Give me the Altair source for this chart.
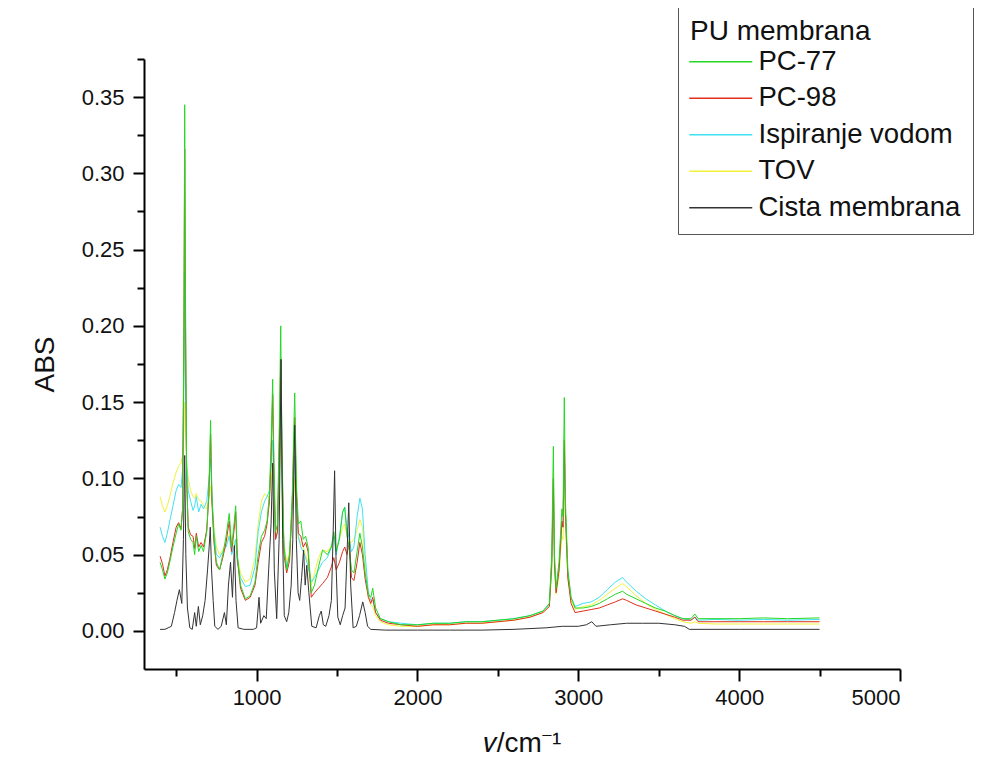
import altair as alt
import pandas as pd

series_names = ["PC-77", "PC-98", "Ispiranje vodom", "TOV", "Cista membrana"]
series_colors = ["#22d822", "#e0301c", "#3fe2f2", "#f2f23a", "#333333"]
draw_order = ["TOV", "Ispiranje vodom", "PC-98", "PC-77", "Cista membrana"]

# wavenumbers shared by the four treated membranes
wn = [400, 415, 430, 445, 460, 480, 500, 515, 530, 540, 548, 553, 558, 565, 575, 590, 605, 615, 625, 640,
      655, 670, 690, 703, 714, 722, 735, 750, 770, 790, 810, 830, 845, 860, 870, 880, 900, 930, 960, 990,
      1010, 1030, 1050, 1065, 1080, 1092, 1100, 1108, 1118, 1130, 1142, 1150, 1158, 1170, 1187, 1205, 1222, 1237, 1248, 1260,
      1275, 1290, 1305, 1320, 1340, 1360, 1385, 1410, 1440, 1465, 1480, 1495, 1515, 1535, 1548, 1562, 1575, 1590, 1605, 1625,
      1642, 1658, 1675, 1695, 1710, 1722, 1740, 1770, 1820, 1900, 2000, 2100, 2200, 2300, 2400, 2500, 2600, 2700, 2780, 2820,
      2835, 2845, 2852, 2862, 2880, 2898, 2905, 2913, 2920, 2935, 2955, 2980, 3030, 3080, 3130, 3180, 3230, 3275, 3300, 3360,
      3420, 3480, 3540, 3600, 3650, 3700, 3725, 3745, 3850, 4000, 4150, 4300, 4500]

pc77 = [0.045, 0.040, 0.034, 0.038, 0.045, 0.055, 0.064, 0.070, 0.066, 0.080, 0.200, 0.345, 0.220, 0.100, 0.065, 0.060, 0.058, 0.050, 0.062, 0.052,
        0.056, 0.052, 0.065, 0.090, 0.138, 0.090, 0.060, 0.045, 0.040, 0.050, 0.062, 0.077, 0.055, 0.070, 0.082, 0.050, 0.030, 0.021, 0.023, 0.032,
        0.050, 0.062, 0.066, 0.072, 0.090, 0.130, 0.165, 0.110, 0.065, 0.070, 0.140, 0.200, 0.120, 0.055, 0.040, 0.050, 0.090, 0.156, 0.095, 0.070,
        0.072, 0.060, 0.062, 0.055, 0.025, 0.030, 0.042, 0.053, 0.050, 0.055, 0.065, 0.052, 0.060, 0.078, 0.081, 0.062, 0.055, 0.040, 0.038, 0.052,
        0.064, 0.055, 0.038, 0.024, 0.022, 0.028, 0.015, 0.008, 0.006, 0.004, 0.004, 0.005, 0.005, 0.006, 0.006, 0.007, 0.008, 0.010, 0.013, 0.018,
        0.050, 0.121, 0.050, 0.028, 0.045, 0.080, 0.075, 0.153, 0.085, 0.040, 0.022, 0.015, 0.015, 0.016, 0.018, 0.021, 0.024, 0.026, 0.024, 0.021,
        0.018, 0.015, 0.013, 0.010, 0.008, 0.008, 0.011, 0.008, 0.008, 0.008, 0.0085, 0.008, 0.0085]

pc98 = [0.049, 0.044, 0.036, 0.040, 0.047, 0.058, 0.068, 0.071, 0.067, 0.080, 0.190, 0.316, 0.200, 0.100, 0.068, 0.063, 0.062, 0.054, 0.064, 0.055,
        0.058, 0.055, 0.066, 0.088, 0.129, 0.085, 0.058, 0.043, 0.040, 0.048, 0.058, 0.072, 0.052, 0.066, 0.078, 0.048, 0.028, 0.020, 0.022, 0.030,
        0.045, 0.058, 0.062, 0.070, 0.085, 0.120, 0.155, 0.100, 0.060, 0.065, 0.125, 0.178, 0.110, 0.050, 0.038, 0.046, 0.085, 0.140, 0.088, 0.064,
        0.062, 0.055, 0.058, 0.052, 0.022, 0.025, 0.028, 0.031, 0.035, 0.042, 0.048, 0.040, 0.045, 0.052, 0.055, 0.050, 0.058, 0.035, 0.033, 0.045,
        0.058, 0.050, 0.034, 0.022, 0.018, 0.022, 0.012, 0.007, 0.005, 0.004, 0.003, 0.004, 0.004, 0.005, 0.005, 0.006, 0.007, 0.009, 0.012, 0.016,
        0.045, 0.100, 0.045, 0.025, 0.040, 0.072, 0.068, 0.125, 0.078, 0.035, 0.018, 0.012, 0.013, 0.014, 0.015, 0.017, 0.019, 0.021, 0.020, 0.017,
        0.015, 0.013, 0.011, 0.009, 0.007, 0.007, 0.009, 0.006, 0.006, 0.006, 0.006, 0.006, 0.006]

ispiranje = [0.068, 0.062, 0.058, 0.064, 0.072, 0.082, 0.092, 0.096, 0.094, 0.105, 0.160, 0.236, 0.170, 0.110, 0.092, 0.085, 0.079, 0.082, 0.088, 0.078,
             0.083, 0.080, 0.085, 0.098, 0.113, 0.090, 0.065, 0.050, 0.048, 0.052, 0.055, 0.062, 0.050, 0.055, 0.060, 0.045, 0.035, 0.029, 0.030, 0.042,
             0.065, 0.078, 0.085, 0.088, 0.092, 0.110, 0.125, 0.090, 0.060, 0.065, 0.115, 0.150, 0.095, 0.055, 0.042, 0.050, 0.080, 0.115, 0.078, 0.062,
             0.055, 0.052, 0.048, 0.042, 0.032, 0.035, 0.040, 0.045, 0.048, 0.055, 0.062, 0.050, 0.062, 0.078, 0.081, 0.068, 0.060, 0.052, 0.055, 0.075,
             0.087, 0.080, 0.050, 0.025, 0.020, 0.020, 0.012, 0.008, 0.006, 0.005, 0.004, 0.005, 0.005, 0.006, 0.006, 0.007, 0.008, 0.010, 0.013, 0.017,
             0.042, 0.095, 0.042, 0.026, 0.040, 0.070, 0.068, 0.118, 0.078, 0.038, 0.022, 0.016, 0.018, 0.019, 0.022, 0.027, 0.032, 0.035, 0.032, 0.026,
             0.021, 0.017, 0.013, 0.010, 0.008, 0.007, 0.009, 0.007, 0.0075, 0.007, 0.0075, 0.007, 0.0075]

tov = [0.088, 0.082, 0.078, 0.082, 0.088, 0.097, 0.104, 0.108, 0.110, 0.115, 0.130, 0.150, 0.130, 0.110, 0.100, 0.092, 0.088, 0.087, 0.090, 0.086,
       0.085, 0.082, 0.080, 0.088, 0.095, 0.085, 0.068, 0.055, 0.050, 0.053, 0.058, 0.063, 0.055, 0.058, 0.060, 0.048, 0.038, 0.032, 0.034, 0.048,
       0.070, 0.085, 0.090, 0.088, 0.088, 0.100, 0.110, 0.085, 0.062, 0.066, 0.105, 0.130, 0.090, 0.058, 0.045, 0.052, 0.075, 0.100, 0.072, 0.060,
       0.058, 0.055, 0.050, 0.045, 0.030, 0.038, 0.048, 0.053, 0.052, 0.056, 0.060, 0.055, 0.060, 0.068, 0.070, 0.062, 0.058, 0.058, 0.060, 0.066,
       0.073, 0.068, 0.045, 0.022, 0.017, 0.016, 0.010, 0.006, 0.004, 0.003, 0.003, 0.004, 0.004, 0.005, 0.005, 0.006, 0.007, 0.009, 0.012, 0.016,
       0.038, 0.082, 0.038, 0.024, 0.036, 0.062, 0.060, 0.100, 0.068, 0.034, 0.020, 0.014, 0.016, 0.017, 0.020, 0.024, 0.028, 0.031, 0.029, 0.023,
       0.018, 0.014, 0.011, 0.008, 0.006, 0.005, 0.006, 0.005, 0.0045, 0.0045, 0.0045, 0.0045, 0.0045]

# untreated (clean) membrane
wn_cista = [400, 430, 450, 470, 490, 505, 520, 535, 545, 553, 560, 570, 585, 600, 615, 625, 638, 650, 665, 680,
            695, 705, 712, 720, 730, 740, 760, 780, 800, 812, 825, 838, 850, 862, 872, 885, 920, 980, 1000, 1015,
            1025, 1045, 1060, 1075, 1090, 1100, 1110, 1125, 1140, 1152, 1162, 1172, 1187, 1200, 1215, 1225, 1237, 1247, 1258, 1268,
            1280, 1292, 1302, 1312, 1325, 1343, 1370, 1390, 1402, 1415, 1430, 1450, 1465, 1475, 1485, 1495, 1505, 1520, 1535, 1550,
            1562, 1573, 1585, 1600, 1620, 1640, 1660, 1675, 1690, 1710, 1800, 2000, 2200, 2400, 2600, 2800, 2900, 3000, 3050, 3084,
            3110, 3200, 3300, 3400, 3500, 3600, 3660, 3690, 4000, 4500]
cista = [0.001, 0.001, 0.002, 0.003, 0.012, 0.020, 0.027, 0.018, 0.060, 0.115, 0.050, 0.015, 0.002, 0.001, 0.012, 0.003, 0.016, 0.004, 0.010, 0.020,
         0.040, 0.055, 0.068, 0.040, 0.020, 0.003, 0.001, 0.003, 0.012, 0.004, 0.030, 0.045, 0.022, 0.056, 0.020, 0.002, 0.001, 0.001, 0.002, 0.022,
         0.005, 0.010, 0.008, 0.040, 0.070, 0.110, 0.040, 0.008, 0.060, 0.178, 0.060, 0.010, 0.006, 0.012, 0.030, 0.060, 0.135, 0.060, 0.025, 0.020,
         0.035, 0.053, 0.030, 0.043, 0.025, 0.003, 0.002, 0.010, 0.013, 0.004, 0.003, 0.010, 0.020, 0.060, 0.105, 0.040, 0.009, 0.004, 0.010, 0.015,
         0.050, 0.084, 0.030, 0.002, 0.003, 0.010, 0.019, 0.012, 0.003, 0.001, 0.0005, 0.0005, 0.0005, 0.0005, 0.001, 0.002, 0.003, 0.003, 0.004, 0.006,
         0.003, 0.004, 0.005, 0.005, 0.005, 0.004, 0.003, 0.001, 0.001, 0.001]

x_ticks = [500, 1000, 1500, 2000, 2500, 3000, 3500, 4000, 4500, 5000]
y_ticks = [0.0, 0.025, 0.05, 0.075, 0.1, 0.125, 0.15, 0.175, 0.2, 0.225, 0.25, 0.275, 0.3, 0.325, 0.35, 0.375]

assert len(wn) == len(pc77) == len(pc98) == len(ispiranje) == len(tov)
assert len(wn_cista) == len(cista)

rows = []
series_data = {
    "PC-77": (wn, pc77),
    "PC-98": (wn, pc98),
    "Ispiranje vodom": (wn, ispiranje),
    "TOV": (wn, tov),
    "Cista membrana": (wn_cista, cista),
}
for name in draw_order:
    xs, ys = series_data[name]
    for xv, yv in zip(xs, ys):
        rows.append({"wn": xv, "abs": yv, "series": name})
df = pd.DataFrame(rows)

FONT = "Liberation Sans"

chart = alt.Chart(df).mark_line(strokeWidth=1, clip=True).encode(
    x=alt.X("wn:Q",
            scale=alt.Scale(domain=[300, 5000], nice=False, zero=False),
            axis=alt.Axis(values=x_ticks, format="d",
                          labelExpr="datum.value % 1000 === 0 ? datum.label : ''",
                          tickSize={"condition": {"test": "datum.value % 1000 === 0", "value": 12}, "value": 7},
                          title="𝑣/cm⁻¹",
                          titlePadding=21, labelPadding=6)),
    y=alt.Y("abs:Q",
            scale=alt.Scale(domain=[-0.025, 0.375], nice=False, zero=False),
            axis=alt.Axis(values=y_ticks, format=".2f",
                          labelExpr="round(datum.value * 1000) % 50 === 0 ? datum.label : ''",
                          tickSize={"condition": {"test": "round(datum.value * 1000) % 50 === 0", "value": 11}, "value": 7},
                          title="ABS", titlePadding=22, labelPadding=9)),
    color=alt.Color("series:N",
                    scale=alt.Scale(domain=series_names, range=series_colors),
                    legend=alt.Legend(orient="none", legendX=534, legendY=-53,
                                      title="PU membrana", symbolType="M-3,0H3",
                                      symbolSize=441, symbolStrokeWidth=1.3,
                                      symbolOffset=17, labelOffset=24,
                                      strokeColor="#555555", fillColor="white",
                                      padding=12, rowPadding=7.5,
                                      titlePadding=2, labelLimit=0, titleLimit=0)),
).properties(
    width=756, height=610,
    autosize=alt.AutoSizeParams(type="none"),
    padding={"left": 136, "top": 51, "right": 74, "bottom": 87},
).configure_view(stroke=None).configure_axis(
    grid=False, domainColor="black", domainWidth=2, tickColor="black", tickWidth=2,
    labelFont=FONT, titleFont=FONT, labelFontSize=22, titleFontSize=28,
    labelColor="#111111", titleColor="#111111", titleFontWeight="normal",
).configure_legend(
    titleFont=FONT, labelFont=FONT, titleFontSize=28, labelFontSize=27.5,
    titleFontWeight="normal", titleColor="#111111", labelColor="#111111",
)

chart.save("out.html", embed_options={"renderer": "svg", "actions": False})
